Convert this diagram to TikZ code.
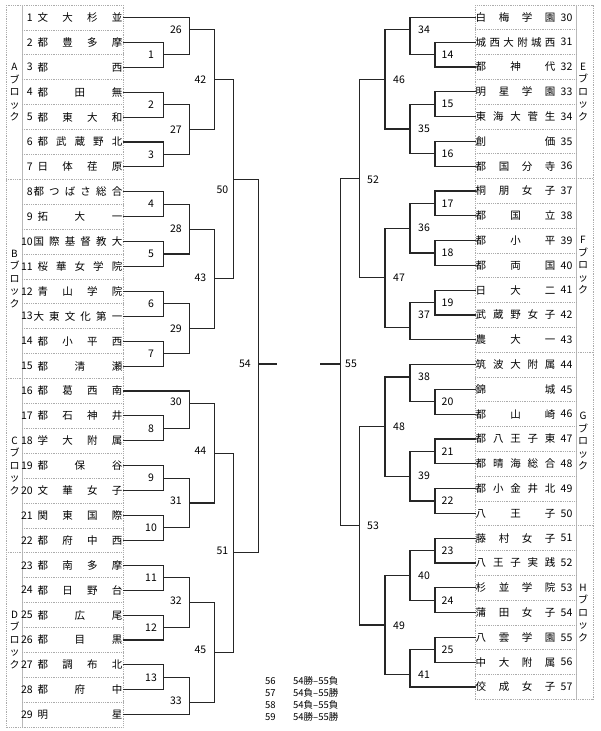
\documentclass[tikz,border=0pt]{standalone}
\usepackage{fontspec}
\setmainfont{Noto Sans CJK JP}
\def\spreadchars#1{\spreadA#1\relax}
\def\spreadA#1{#1\spreadB}
\def\spreadB#1{\ifx\relax#1\else\hfill#1\expandafter\spreadB\fi}
\newcommand\mtch[5]{%
  \coordinate (m#1) at (#4,#5);
  \draw[br] (#2) -| (m#1);
  \draw[br] (#3) -| (m#1);}
\newcommand\mlab[4]{\node[ml,anchor=#2] (l#1) at (#3,#4) {#1};}
\tikzset{
  br/.style={line width=1.1pt, black!85},
  gridl/.style={gray!65, line width=0.8pt, densely dotted},
  gridv/.style={gray!55, line width=0.7pt},
  num/.style={inner sep=0pt},
  ml/.style={inner sep=0pt},
  blk/.style={inner sep=0pt, align=center, font=\fontsize{10}{12.5}\selectfont},
  lg/.style={inner sep=0pt, anchor=west, font=\fontsize{9.5}{11}\selectfont},
}
\begin{document}
\begin{tikzpicture}[x=1pt,y=-1pt,font=\fontsize{10.5}{12}\selectfont]
\useasboundingbox (0,0) rectangle (600,731);
% ---------- left table grid
\draw[gridl] (6,5) rectangle (123,727.1);
\draw[gridv] (22,5) -- (22,727.1);
\foreach \k in {1,...,28} {\draw[gridl] (22,{5+\k*24.9}) -- (123,{5+\k*24.9});}
\foreach \k in {7,15,22} {\draw[gridl] (6,{5+\k*24.9}) -- (22,{5+\k*24.9});}
% ---------- right table grid
\draw[gridl] (475,5) rectangle (593,699.4);
\draw[gridv] (576,5) -- (576,699.4);
\foreach \k in {1,...,27} {\draw[gridl] (475,{5+\k*24.8}) -- (576,{5+\k*24.8});}
\foreach \k in {7,14,21} {\draw[gridl] (576,{5+\k*24.8}) -- (593,{5+\k*24.8});}
% ---------- block labels
\node[blk] (bA) at (14.5,92.15) {A\\ブ\\ロ\\ッ\\ク};
\node[blk] (bB) at (14.5,278.9) {B\\ブ\\ロ\\ッ\\ク};
\node[blk] (bC) at (14.5,465.65) {C\\ブ\\ロ\\ッ\\ク};
\node[blk] (bD) at (14.5,639.95) {D\\ブ\\ロ\\ッ\\ク};
\node[blk] (bE) at (583,91.8) {E\\ブ\\ロ\\ッ\\ク};
\node[blk] (bF) at (583,265.4) {F\\ブ\\ロ\\ッ\\ク};
\node[blk] (bG) at (583,441) {G\\ブ\\ロ\\ッ\\ク};
\node[blk] (bH) at (583,612.6) {H\\ブ\\ロ\\ッ\\ク};
% ---------- left teams
\foreach \i/\nm/\w in {1/文大杉並/84.75,2/都豊多摩/84.75,3/都西/84.75,4/都田無/84.75,
  5/都東大和/84.75,6/都武蔵野北/84.75,7/日体荏原/84.75,8/都つばさ総合/88.75,
  9/拓大一/84.75,10/国際基督教大/88.75,11/桜華女学院/84.75,12/青山学院/84.75,
  13/大東文化第一/88.75,14/都小平西/84.75,15/都清瀬/84.75,16/都葛西南/84.75,
  17/都石神井/84.75,18/学大附属/84.75,19/都保谷/84.75,20/文華女子/84.75,
  21/関東国際/84.75,22/都府中西/84.75,23/都南多摩/84.75,24/都日野台/84.75,
  25/都広尾/84.75,26/都目黒/84.75,27/都調布北/84.75,28/都府中/84.75,29/明星/84.75}{
  \node[num,anchor=east] (n\i) at (33,{5+(\i-0.5)*24.9}) {\i};
  \node[num,anchor=east] (t\i) at (122.5,{5+(\i-0.5)*24.9})
     {\hbox to \w pt{\expandafter\spreadchars\expandafter{\nm}}};
}
% ---------- right teams
\foreach \k/\nm in {1/白梅学園,2/城西大附城西,3/都神代,4/明星学園,5/東海大菅生,6/創価,
  7/都国分寺,8/桐朋女子,9/都国立,10/都小平,11/都両国,12/日大二,13/武蔵野女子,
  14/農大一,15/筑波大附属,16/錦城,17/都山崎,18/都八王子東,19/都晴海総合,
  20/都小金井北,21/八王子,22/藤村女子,23/八王子実践,24/杉並学院,25/蒲田女子,
  26/八雲学園,27/中大附属,28/佼成女子}{
  \pgfmathtruncatemacro\tn{\k+29}
  \node[num,anchor=west] (t\tn) at (475.5,{5+(\k-0.5)*24.8})
     {\hbox to 79.75pt{\expandafter\spreadchars\expandafter{\nm}}};
  \node[num,anchor=west] (n\tn) at (560.5,{5+(\k-0.5)*24.8}) {\tn};
}
% ---------- left bracket
\mtch{1}{t2.east}{t3.east}{163.3}{54.8}
\mtch{2}{t4.east}{t5.east}{163.3}{104.6}
\mtch{3}{t6.east}{t7.east}{163.3}{154.4}
\mtch{4}{t8.east}{t9.east}{163.3}{204.2}
\mtch{5}{t10.east}{t11.east}{163.3}{254.0}
\mtch{6}{t12.east}{t13.east}{163.3}{303.8}
\mtch{7}{t14.east}{t15.east}{163.3}{353.6}
\mtch{8}{t17.east}{t18.east}{163.3}{428.3}
\mtch{9}{t19.east}{t20.east}{163.3}{478.1}
\mtch{10}{t21.east}{t22.east}{163.3}{527.9}
\mtch{11}{t23.east}{t24.east}{163.3}{577.7}
\mtch{12}{t25.east}{t26.east}{163.3}{627.5}
\mtch{13}{t27.east}{t28.east}{163.3}{677.3}
\mtch{26}{t1.east}{m1}{189.3}{29.9}
\mtch{27}{m2}{m3}{189.3}{129.5}
\mtch{28}{m4}{m5}{189.3}{229.1}
\mtch{29}{m6}{m7}{189.3}{328.7}
\mtch{30}{t16.east}{m8}{189.3}{403.4}
\mtch{31}{m9}{m10}{189.3}{503.0}
\mtch{32}{m11}{m12}{189.3}{602.6}
\mtch{33}{m13}{t29.east}{189.3}{702.2}
\mtch{42}{m26}{m27}{214.3}{79.7}
\mtch{43}{m28}{m29}{214.3}{278.9}
\mtch{44}{m30}{m31}{214.3}{453.2}
\mtch{45}{m32}{m33}{214.3}{652.4}
\mtch{50}{m42}{m43}{233.3}{179.3}
\mtch{51}{m44}{m45}{233.3}{552.8}
\mtch{54}{m50}{m51}{258.3}{364}
\coordinate (e54) at (276.7,364);
\draw[br] (m54) -- (e54);
% ---------- right bracket
\mtch{14}{t31.west}{t32.west}{435}{54.6}
\mtch{15}{t33.west}{t34.west}{435}{104.2}
\mtch{16}{t35.west}{t36.west}{435}{153.8}
\mtch{17}{t37.west}{t38.west}{435}{203.4}
\mtch{18}{t39.west}{t40.west}{435}{253.0}
\mtch{19}{t41.west}{t42.west}{435}{302.6}
\mtch{20}{t45.west}{t46.west}{435}{401.8}
\mtch{21}{t47.west}{t48.west}{435}{451.4}
\mtch{22}{t49.west}{t50.west}{435}{501.0}
\mtch{23}{t51.west}{t52.west}{435}{550.6}
\mtch{24}{t53.west}{t54.west}{435}{600.2}
\mtch{25}{t55.west}{t56.west}{435}{649.8}
\mtch{34}{t30.west}{m14}{410}{29.8}
\mtch{35}{m15}{m16}{410}{129.0}
\mtch{36}{m17}{m18}{410}{228.2}
\mtch{37}{m19}{t43.west}{410}{327.4}
\mtch{38}{t44.west}{m20}{410}{377.0}
\mtch{39}{m21}{m22}{410}{476.2}
\mtch{40}{m23}{m24}{410}{575.4}
\mtch{41}{m25}{t57.west}{410}{674.6}
\mtch{46}{m34}{m35}{385}{79.4}
\mtch{47}{m36}{m37}{385}{277.8}
\mtch{48}{m38}{m39}{385}{426.6}
\mtch{49}{m40}{m41}{385}{625.0}
\mtch{52}{m46}{m47}{359.3}{178.6}
\mtch{53}{m48}{m49}{359.3}{525.8}
\mtch{55}{m52}{m53}{340.7}{364}
\coordinate (e55) at (320,364);
\draw[br] (m55) -- (e55);
% ---------- match labels (left)
\mlab{1}{center}{151}{54.8}
\mlab{2}{center}{151}{104.6}
\mlab{3}{center}{151}{154.4}
\mlab{4}{center}{151}{204.2}
\mlab{5}{center}{151}{254.0}
\mlab{6}{center}{151}{303.8}
\mlab{7}{center}{151}{353.6}
\mlab{8}{center}{151}{428.3}
\mlab{9}{center}{151}{478.1}
\mlab{10}{center}{151}{527.9}
\mlab{11}{center}{151}{577.7}
\mlab{12}{center}{151}{627.5}
\mlab{13}{center}{151}{677.3}
\mlab{26}{east}{182}{29.9}
\mlab{27}{east}{182}{129.5}
\mlab{28}{east}{182}{229.1}
\mlab{29}{east}{182}{328.7}
\mlab{30}{east}{182}{402}
\mlab{31}{east}{182}{501}
\mlab{32}{east}{182}{601}
\mlab{33}{east}{182}{701}
\mlab{42}{east}{206.5}{79.7}
\mlab{43}{east}{206.5}{277.5}
\mlab{44}{east}{206.5}{451}
\mlab{45}{east}{206.5}{650}
\mlab{50}{east}{228.5}{190}
\mlab{51}{east}{228.5}{551}
\mlab{54}{east}{251}{364}
% ---------- match labels (right)
\mlab{14}{center}{447.5}{54.6}
\mlab{15}{center}{447.5}{104.2}
\mlab{16}{center}{447.5}{153.8}
\mlab{17}{center}{447.5}{203.4}
\mlab{18}{center}{447.5}{253.0}
\mlab{19}{center}{447.5}{302.6}
\mlab{20}{center}{447.5}{401.8}
\mlab{21}{center}{447.5}{451.4}
\mlab{22}{center}{447.5}{501.0}
\mlab{23}{center}{447.5}{550.6}
\mlab{24}{center}{447.5}{600.2}
\mlab{25}{center}{447.5}{649.8}
\mlab{34}{west}{418}{29.8}
\mlab{35}{west}{418}{129.0}
\mlab{36}{west}{418}{228.2}
\mlab{37}{west}{418}{315}
\mlab{38}{west}{418}{377.0}
\mlab{39}{west}{418}{476.2}
\mlab{40}{west}{418}{575.4}
\mlab{41}{west}{418}{674.6}
\mlab{46}{west}{393}{79.4}
\mlab{47}{west}{393}{277.8}
\mlab{48}{west}{393}{426.6}
\mlab{49}{west}{393}{625.5}
\mlab{52}{west}{367}{179.5}
\mlab{53}{west}{367}{526}
\mlab{55}{west}{345}{364}
% ---------- legend
\node[lg] (g56) at (265,681) {56};
\node[lg] (h56) at (293,681) {54勝–55負};
\node[lg] (g57) at (265,693) {57};
\node[lg] (h57) at (293,693) {54負–55勝};
\node[lg] (g58) at (265,705) {58};
\node[lg] (h58) at (293,705) {54負–55負};
\node[lg] (g59) at (265,717) {59};
\node[lg] (h59) at (293,717) {54勝–55勝};
\end{tikzpicture}
\end{document}
